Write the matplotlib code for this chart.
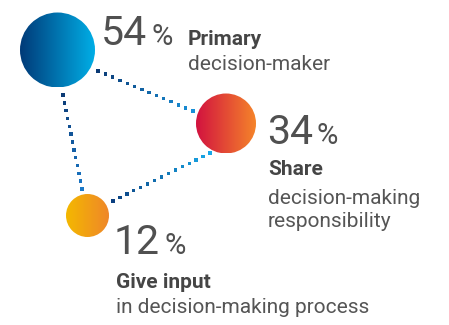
import numpy as np
import matplotlib
matplotlib.use("Agg")
import matplotlib.pyplot as plt
from matplotlib.colors import LinearSegmentedColormap, to_rgb
from matplotlib.patches import Circle

# data
values = [54, 34, 12]
titles = ["Primary", "Share", "Give input"]
subtitles = [["decision-maker"], ["decision-making", "responsibility"], ["in decision-making process"]]

# layout (pixels, y down)
centers = [(57.5, 50), (226, 123.5), (87.5, 215.5)]
radii = [37.5, 30, 21.5]
grads = [("#003a78", "#00aee6"), ("#d2123f", "#f5842a"), ("#f4b800", "#ef8729")]
num_pos = [(101, 45), (267, 144), (114, 254)]
title_pos = [(188, 45), (268, 175), (116, 288)]
sub_pos = [(188, 70), (268, 204), (116, 313)]
links = [((98, 71), (193, 111), "#0b3a75", "#1890d8"),
         ((63, 95), (82, 189), "#0b3a75", "#1a78c8"),
         ((113, 201), (210, 153), "#0b3f80", "#18a8e8")]

TXT = "#555555"
FONT = "Roboto"

fig = plt.figure(figsize=(4.49, 3.25), dpi=100)
ax = fig.add_axes([0, 0, 1, 1])
ax.axis("off")

# dotted connectors with a colour gradient
for (x0, y0), (x1, y1), c0, c1 in links:
    n = int(np.hypot(x1 - x0, y1 - y0) / 7.6) + 1
    t = np.linspace(0, 1, n)
    cols = np.outer(1 - t, to_rgb(c0)) + np.outer(t, to_rgb(c1))
    ax.scatter(x0 + (x1 - x0) * t, y0 + (y1 - y0) * t, s=6, c=cols,
               marker="s", linewidths=0, zorder=1)

# gradient circles
grad = np.linspace(0, 1, 256).reshape(1, -1)
for (cx, cy), r, (ca, cb) in zip(centers, radii, grads):
    cmap = LinearSegmentedColormap.from_list("g", [ca, cb])
    im = ax.imshow(grad, cmap=cmap, aspect="auto",
                   extent=(cx - r, cx + r, cy + r, cy - r), zorder=2)
    im.set_clip_path(Circle((cx, cy), r, transform=ax.transData))
ax.set_xlim(0, 449)
ax.set_ylim(325, 0)

fig.canvas.draw()
rend = fig.canvas.get_renderer()
for v, (nx, ny), t, (tx, ty), sub, (sx, sy) in zip(values, num_pos, titles, title_pos, subtitles, sub_pos):
    num = ax.text(nx, ny, str(v), fontsize=29.5, family=FONT,
                  color="#505050", va="baseline", ha="left")
    x_end = ax.transData.inverted().transform(num.get_window_extent(renderer=rend))[1][0]
    ax.text(x_end + 4, ny, "%", fontsize=21, family=FONT,
            color="#505050", va="baseline", ha="left")
    ax.text(tx, ty, t, fontsize=15, family=FONT, fontweight="bold",
            color="#454545", va="baseline", ha="left")
    for i, line in enumerate(sub):
        ax.text(sx, sy + i * 23, line, fontsize=15, family=FONT, color=TXT,
                va="baseline", ha="left")

fig.savefig("out.png", dpi=100)
